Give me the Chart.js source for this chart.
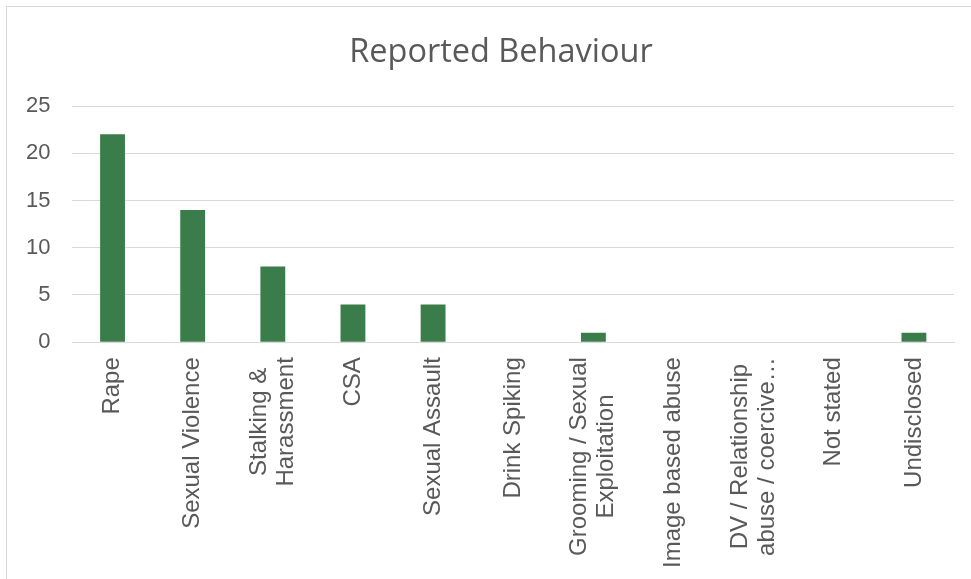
<!DOCTYPE html>
<html>
<head>
<meta charset="utf-8">
<script src="https://cdn.jsdelivr.net/npm/chart.js@4.4.1/dist/chart.umd.min.js"></script>
<style>
  html, body { margin: 0; padding: 0; background: #fff; overflow: hidden; }
  #frame { position: absolute; left: 6px; top: 6px; width: 1000px; height: 1000px; border: 1px solid #d9d9d9; }
  #wrap { position: absolute; left: 0; top: 0; width: 971px; height: 577px; }
</style>
</head>
<body>
<div id="frame"></div>
<div id="wrap"><canvas id="chart"></canvas></div>
<script>
// categories (multi-line labels as shown under the axis)
const categories = [
  "Rape",
  "Sexual Violence",
  ["Stalking &", "Harassment"],
  "CSA",
  "Sexual Assault",
  "Drink Spiking",
  ["Grooming / Sexual", "Exploitation"],
  "Image based abuse",
  ["DV / Relationship", "abuse / coercive…"],
  "Not stated",
  "Undisclosed"
];
const counts = [22, 14, 8, 4, 4, 0, 1, 0, 0, 0, 1];
const yTicks = [0, 5, 10, 15, 20, 25];

const textGrey = "#595959";
const gridGrey = "#d9d9d9";
const labelFont = "24px 'Liberation Sans', Arial";
const labelLine = 27;

// Excel centres each line of a rotated label; Chart.js right-aligns them,
// so the axis keeps its (invisible) ticks for sizing and we paint the text here.
const centredLabels = {
  id: "centredLabels",
  afterLayout(chart) {
    // title sits a little right of centre in the original
    if (chart.titleBlock) chart.titleBlock.left += 44;
  },
  afterDraw(chart) {
    const scale = chart.scales.x;
    const ctx = chart.ctx;
    ctx.save();
    ctx.font = labelFont;
    ctx.fillStyle = textGrey;
    ctx.textAlign = "center";
    ctx.textBaseline = "middle";
    categories.forEach((lab, i) => {
      const lines = Array.isArray(lab) ? lab : [lab];
      const maxW = Math.max(...lines.map(l => ctx.measureText(l).width));
      const x = scale.getPixelForTick(i);
      const yc = scale.top + 15 + maxW / 2;
      ctx.save();
      ctx.translate(x, yc);
      ctx.rotate(-Math.PI / 2);
      lines.forEach((l, j) => {
        ctx.fillText(l, 0, (j - (lines.length - 1) / 2) * labelLine);
      });
      ctx.restore();
    });
    ctx.restore();
  }
};

new Chart(document.getElementById("chart"), {
  type: "bar",
  data: {
    labels: categories,
    datasets: [{
      label: "Reported Behaviour",
      data: counts,
      backgroundColor: "#3a7d4b",
      categoryPercentage: 1,
      barPercentage: 0.31
    }]
  },
  options: {
    responsive: true,
    maintainAspectRatio: false,
    animation: false,
    layout: { padding: { left: 4, right: 17, bottom: 0 } },
    plugins: {
      legend: { display: false },
      tooltip: { enabled: false },
      title: {
        display: true,
        text: "Reported Behaviour",
        color: textGrey,
        font: { family: "'Open Sans'", size: 32.5, weight: "normal" },
        padding: { top: 33, bottom: 34 }
      }
    },
    scales: {
      x: {
        grid: { display: false },
        border: { color: gridGrey, width: 1 },
        ticks: {
          color: "rgba(0,0,0,0)",
          font: { family: "'Liberation Sans', Arial", size: 24, lineHeight: 1.15 },
          maxRotation: 90,
          minRotation: 90,
          padding: 8,
          autoSkip: false
        }
      },
      y: {
        min: 0,
        max: 25,
        afterBuildTicks: (axis) => { axis.ticks = yTicks.map(v => ({ value: v })); },
        grid: { color: gridGrey, lineWidth: 1, drawTicks: false },
        border: { display: false },
        ticks: {
          color: textGrey,
          font: { family: "'Liberation Sans', Arial", size: 22 },
          padding: 22
        }
      }
    }
  },
  plugins: [centredLabels]
});
</script>
</body>
</html>
